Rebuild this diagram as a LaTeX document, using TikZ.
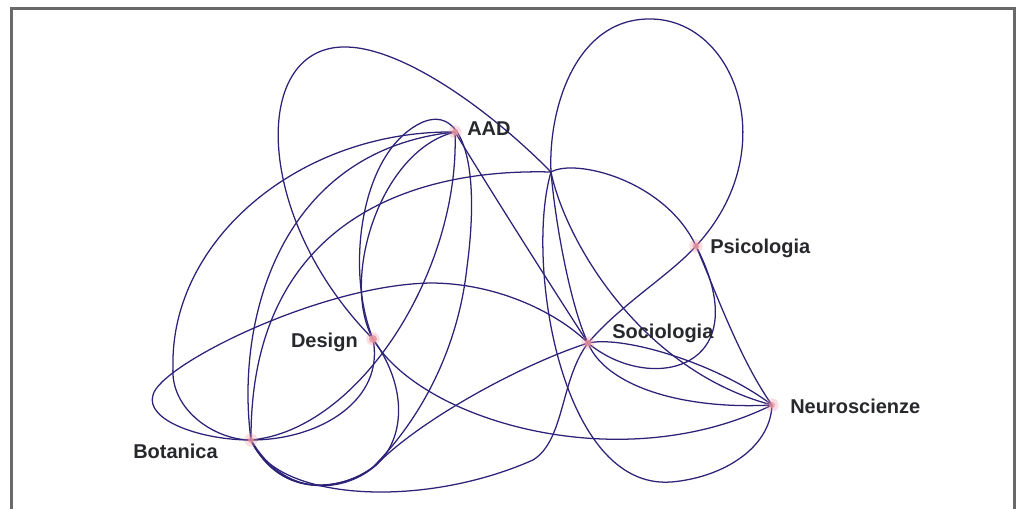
\documentclass[tikz,border=0pt]{standalone}
\usepackage{fontspec}
\setsansfont{Liberation Sans}

\definecolor{linkblue}{RGB}{44,34,120}
\definecolor{tagtext}{RGB}{38,40,44}
\definecolor{dotpink}{RGB}{236,150,160}
\definecolor{framegray}{RGB}{105,105,105}

\begin{document}
\begin{tikzpicture}[x=0.75pt,y=-0.75pt,
  link/.style={draw=linkblue, line width=0.95pt},
  tag/.style={font=\sffamily\bfseries\fontsize{15}{17}\selectfont, text=tagtext, inner sep=0pt}]
\useasboundingbox (0,0) rectangle (1027,508);
\clip (0,0) rectangle (1027,508);
\draw[framegray, line width=1.6pt] (11.5,520) -- (11.5,8.5) -- (1014.5,8.5) -- (1014.5,520);

% the fields
\coordinate (aad) at (455,132);
\coordinate (design) at (373,339);
\coordinate (botanica) at (251,440);
\coordinate (socio) at (588,343);
\coordinate (psico) at (696,246);
\coordinate (neuro) at (772,405);
\coordinate (hub) at (551,172);

% loops over the top
\draw[link] (design) .. controls (255,220) and (250,50) .. (342,47) .. controls (400,45) and (490,110) .. (hub);
\draw[link] (hub) .. controls (548,110) and (575,20) .. (648,19) .. controls (735,17) and (785,150) .. (psico);
\draw[link] (psico) .. controls (670,275) and (620,305) .. (socio);
\draw[link] (hub) .. controls (575,158) and (665,180) .. (psico) .. controls (715,290) and (740,360) .. (neuro);

% sociologia - neuroscienze bundle
\draw[link] (socio) .. controls (650,395) and (760,370) .. (psico);
\draw[link] (socio) .. controls (625,335) and (720,365) .. (neuro);
\draw[link] (socio) .. controls (605,385) and (680,410) .. (neuro);
\draw[link] (hub) .. controls (565,240) and (640,370) .. (neuro);
\draw[link] (hub) .. controls (556,230) and (572,310) .. (socio);
\draw[link] (hub) .. controls (525,260) and (560,490) .. (671,482) .. controls (720,478) and (770,450) .. (neuro);

% botanica to the left side
\draw[link] (botanica) .. controls (200,440) and (145,420) .. (153,395) .. controls (160,365) and (320,285) .. (430,283) .. controls (500,283) and (560,315) .. (socio);
\draw[link] (botanica) .. controls (215,440) and (170,410) .. (173,367) .. controls (170,240) and (300,130) .. (aad);
\draw[link] (botanica) .. controls (235,320) and (280,150) .. (aad);
\draw[link] (hub) .. controls (400,168) and (250,230) .. (botanica);

% aad and design
\draw[link] (aad) .. controls (380,150) and (340,280) .. (design);
\draw[link] (design) .. controls (345,270) and (360,150) .. (423,122) .. controls (465,105) and (480,170) .. (467,267) .. controls (458,350) and (420,420) .. (373,467) .. controls (345,490) and (280,500) .. (botanica);
\draw[link] (design) .. controls (385,400) and (320,440) .. (botanica);
\draw[link] (design) .. controls (410,390) and (405,445) .. (370,470) .. controls (340,492) and (285,498) .. (botanica);
\draw[link] (aad) .. controls (460,270) and (360,430) .. (botanica);
\draw[link] (aad) .. controls (490,190) and (560,300) .. (socio);

% along the bottom
\draw[link] (socio) .. controls (520,365) and (420,420) .. (376,465) .. controls (345,490) and (282,502) .. (botanica);
\draw[link] (botanica) .. controls (275,500) and (420,510) .. (533,460) .. controls (565,440) and (560,380) .. (socio);
\draw[link] (design) .. controls (420,420) and (620,480) .. (neuro);

% dots
\fill[dotpink, opacity=.3] (aad) circle (5pt);
\fill[dotpink, opacity=.8] (aad) circle (2.6pt);
\fill[dotpink, opacity=.3] (design) circle (5pt);
\fill[dotpink, opacity=.9] (design) circle (3pt);
\fill[dotpink, opacity=.3] (botanica) circle (5pt);
\fill[dotpink, opacity=.7] (botanica) circle (2.4pt);
\fill[dotpink, opacity=.3] (socio) circle (5pt);
\fill[dotpink, opacity=.8] (socio) circle (2.6pt);
\fill[dotpink, opacity=.3] (psico) circle (5pt);
\fill[dotpink, opacity=.8] (psico) circle (2.6pt);
\fill[dotpink, opacity=.3] (neuro) circle (5pt);
\fill[dotpink, opacity=.7] (neuro) circle (2.4pt);

% labels
\node[tag, anchor=base west] (aad-tag) at (467,135) {AAD};
\node[tag, anchor=base east] (design-tag) at (358,347) {Design};
\node[tag, anchor=base west] (botanica-tag) at (133,458) {Botanica};
\node[tag, anchor=base west] (socio-tag) at (612,338) {Sociologia};
\node[tag, anchor=base west] (psico-tag) at (710,253) {Psicologia};
\node[tag, anchor=base west] (neuro-tag) at (790,413) {Neuroscienze};
\end{tikzpicture}
\end{document}
